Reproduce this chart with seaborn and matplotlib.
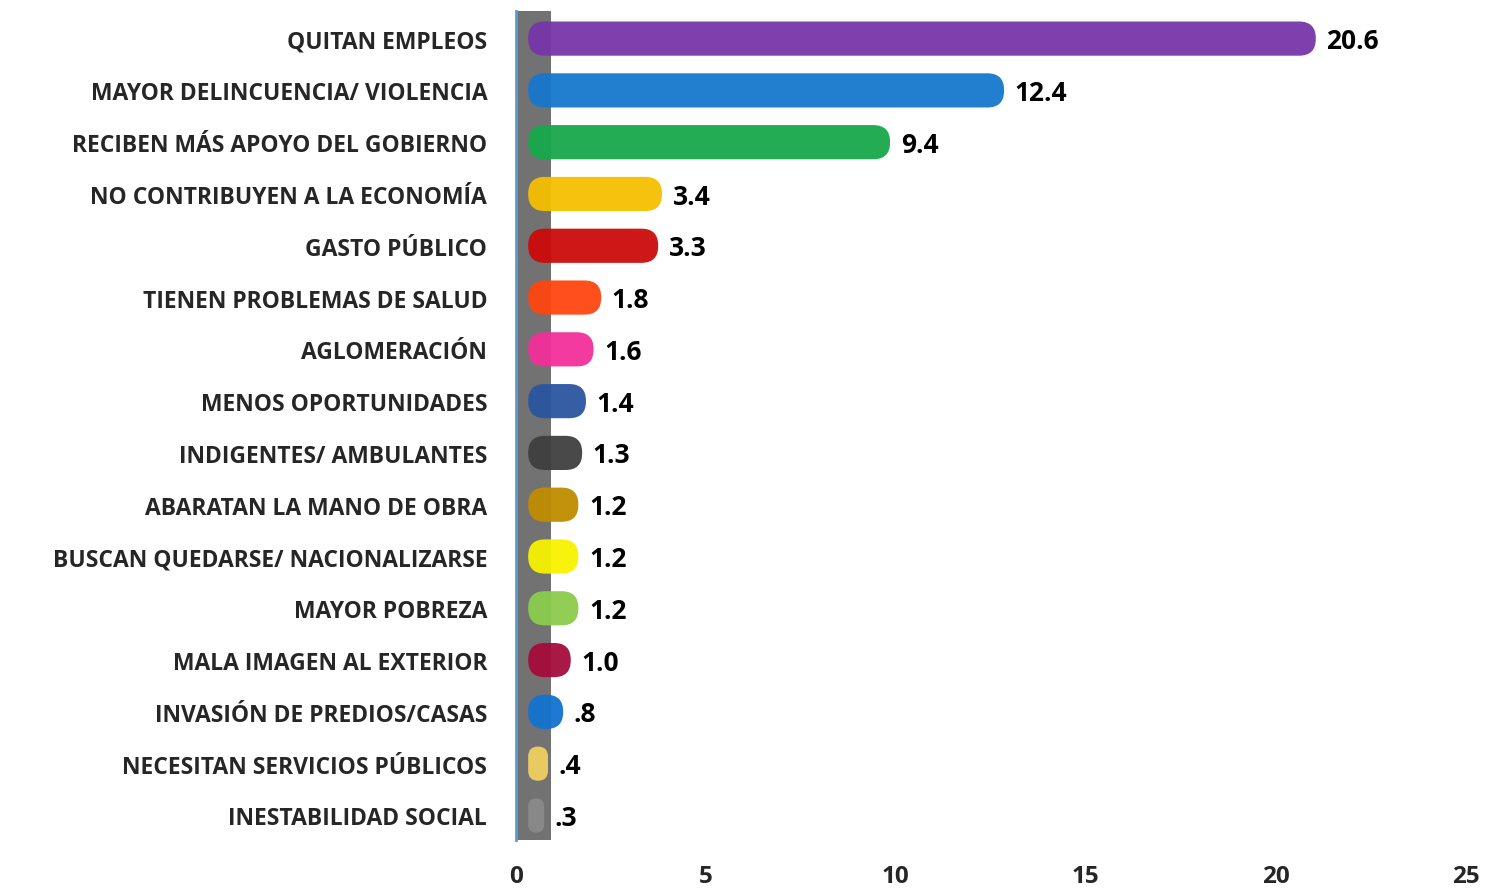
import matplotlib
matplotlib.use("Agg")
import matplotlib.pyplot as plt
from matplotlib.patches import FancyBboxPatch, Rectangle
import seaborn as sns
import pandas as pd

categorias = [
    "QUITAN EMPLEOS",
    "MAYOR DELINCUENCIA/ VIOLENCIA",
    "RECIBEN MÁS APOYO DEL GOBIERNO",
    "NO CONTRIBUYEN A LA ECONOMÍA",
    "GASTO PÚBLICO",
    "TIENEN PROBLEMAS DE SALUD",
    "AGLOMERACIÓN",
    "MENOS OPORTUNIDADES",
    "INDIGENTES/ AMBULANTES",
    "ABARATAN LA MANO DE OBRA",
    "BUSCAN QUEDARSE/ NACIONALIZARSE",
    "MAYOR POBREZA",
    "MALA IMAGEN AL EXTERIOR",
    "INVASIÓN DE PREDIOS/CASAS",
    "NECESITAN SERVICIOS PÚBLICOS",
    "INESTABILIDAD SOCIAL",
]
valores = [20.6, 12.4, 9.4, 3.4, 3.3, 1.8, 1.6, 1.4, 1.3, 1.2, 1.2, 1.2, 1.0, 0.8, 0.4, 0.3]
colores = [
    "#7635a8", "#1677cc", "#17a84a", "#f5c000", "#cc0a0a", "#ff4510",
    "#f22f9a", "#2b55a0", "#3f3f3f", "#c08c00", "#f8f200", "#8ccc4c",
    "#a50c3c", "#1272d0", "#f0d060", "#8a8a8a",
]
ticks_x = [0, 5, 10, 15, 20, 25]

df = pd.DataFrame({"cat": categorias, "val": valores})

sns.set_style("white")
plt.rcParams["font.family"] = ["Open Sans", "DejaVu Sans"]
plt.rcParams["font.weight"] = "bold"

fig = plt.figure(figsize=(14.86, 8.95), dpi=100)
ax = fig.add_axes([0.347, 0.06, 0.6395, 0.927])

sns.barplot(data=df, x="val", y="cat", hue="cat", palette=colores,
            legend=False, width=0.66, ax=ax, saturation=1)

# gray back wall
ax.add_patch(Rectangle((0, -0.54), 0.92, 16.02, color="#727272", zorder=0.5, lw=0))

# rounded bars, slightly offset (3D depth)
offset = 0.33
aspect = 38.0 / 51.7
for p in list(ax.patches):
    if p.get_width() <= 0 or p.get_height() > 2:
        continue
    x0, y0, w, h = p.get_x(), p.get_y(), p.get_width(), p.get_height()
    w = w + 0.12
    r = min(0.45, w / 2, h / aspect / 2 - 0.01)
    fb = FancyBboxPatch((x0 + offset, y0), w, h,
                        boxstyle=f"round,pad=0,rounding_size={r}",
                        mutation_aspect=aspect, facecolor=p.get_facecolor(),
                        edgecolor="none", alpha=0.95, zorder=2)
    ax.add_patch(fb)
    p.set_visible(False)

for i, v in enumerate(valores):
    txt = f"{v:.1f}"
    if txt.startswith("0."):
        txt = txt[1:]
    ax.text(v + offset + 0.4, i + 0.04, txt, va="center", ha="left",
            fontsize=19, fontweight="bold", color="black")

ax.set_xlim(0, 25)
ax.set_ylim(15.48, -0.54)
ax.set_xticks(ticks_x)
ax.set_xlabel("")
ax.set_ylabel("")

for s in ["top", "right", "bottom"]:
    ax.spines[s].set_visible(False)
ax.spines["left"].set_color("#5b9bd5")
ax.spines["left"].set_linewidth(2)
ax.spines["left"].set_zorder(3)

ax.tick_params(axis="y", direction="inout", length=15, width=1.5,
               color="#5b9bd5", pad=13, labelsize=16.5)
ax.tick_params(axis="x", length=0, pad=17, labelsize=17.5)
for lab in ax.get_yticklabels() + ax.get_xticklabels():
    lab.set_fontweight("bold")

fig.savefig("out.png", dpi=100)
